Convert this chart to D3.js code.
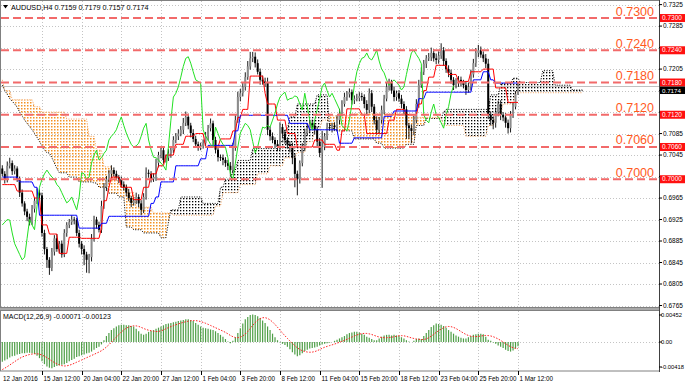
<!DOCTYPE html>
<html>
<head>
<meta charset="utf-8">
<script src="https://cdn.jsdelivr.net/npm/d3@7"></script>
<style>
  body { margin: 0; background: #fff; }
  svg { display: block; }
  text { font-family: "Liberation Sans", Arial, sans-serif; }
</style>
</head>
<body>
<svg id="chart" width="685" height="386"></svg>
<script>
// ---- data ----
// closes, one per H4 bar (bar 0 = first visible bar, bar 208 = 1 Mar 12:00)
const closes = [
  0.7010,0.7000,0.7025,0.7030,0.7015,0.7020,0.7000,0.6975,0.6955,0.6940,
  0.6930,0.6920,0.6945,0.6960,0.6975,0.6970,0.6900,0.6870,0.6850,0.6835,
  0.6865,0.6890,0.6870,0.6880,0.6860,0.6900,0.6915,0.6920,0.6925,0.6924,
  0.6900,0.6880,0.6870,0.6860,0.6850,0.6855,0.6890,0.6925,0.6915,0.6906,
  0.6950,0.6985,0.7000,0.7010,0.7017,0.7010,0.7004,0.7000,0.6990,0.6985,
  0.6975,0.6965,0.6956,0.6960,0.6967,0.6955,0.6943,0.6967,0.7012,0.7010,
  0.7000,0.7004,0.7030,0.7045,0.7054,0.7036,0.7040,0.7048,0.7054,0.7073,
  0.7080,0.7085,0.7092,0.7105,0.7116,0.7100,0.7086,0.7075,0.7065,0.7060,
  0.7062,0.7067,0.7080,0.7095,0.7104,0.7073,0.7055,0.7041,0.7040,0.7036,
  0.7030,0.7025,0.7017,0.7060,0.7110,0.7153,0.7160,0.7172,0.7190,0.7210,
  0.7225,0.7228,0.7216,0.7200,0.7185,0.7182,0.7179,0.7092,0.7080,0.7073,
  0.7065,0.7060,0.7097,0.7085,0.7073,0.7065,0.7060,0.7040,0.7010,0.7000,
  0.7030,0.7060,0.7086,0.7095,0.7104,0.7100,0.7092,0.7070,0.7049,0.7060,
  0.7080,0.7097,0.7095,0.7100,0.7097,0.7110,0.7123,0.7140,0.7153,0.7158,
  0.7162,0.7147,0.7150,0.7151,0.7155,0.7153,0.7140,0.7129,0.7160,0.7135,
  0.7110,0.7092,0.7110,0.7129,0.7150,0.7172,0.7179,0.7165,0.7153,0.7160,
  0.7150,0.7140,0.7130,0.7100,0.7095,0.7090,0.7110,0.7140,0.7175,0.7200,
  0.7215,0.7225,0.7227,0.7235,0.7225,0.7222,0.7230,0.7240,0.7220,0.7205,
  0.7198,0.7185,0.7175,0.7180,0.7185,0.7180,0.7175,0.7166,0.7172,0.7195,
  0.7216,0.7235,0.7240,0.7232,0.7225,0.7215,0.7120,0.7110,0.7105,0.7125,
  0.7140,0.7120,0.7115,0.7105,0.7095,0.7120,0.7135,0.7159,0.7174
];
const firstOpen = 0.7020;
// wick lengths beyond the body, in pips
const upWick = [
  6,5,8,10,5,6,4,5,6,4, 5,6,7,5,8,6,5,6,4,5, 7,6,8,5,6,7,5,6,8,5,
  4,6,5,7,5,6,8,7,5,6, 10,8,6,7,9,5,6,4,5,6, 5,7,4,6,8,5,6,7,10,6,
  5,7,8,6,5,7,6,8,5,7, 6,8,7,9,10,6,5,7,6,5, 6,7,8,6,9,5,6,7,5,6,
  5,6,7,8,9,10,8,7,9,10, 12,9,8,7,6,8,7,10,6,7, 5,8,9,6,7,5,6,8,7,6,
  5,7,8,9,6,7,5,6,7,30, 6,8,7,5,6,9,8,7,8,6, 7,5,6,8,7,6,5,7,9,6,
  5,7,6,8,7,9,8,6,7,5, 6,7,5,6,5,7,8,9,10,8, 7,6,8,10,7,9,8,13,6,5,
  7,6,5,8,7,6,5,7,8,9, 8,9,10,7,6,8,9,6,7,8, 6,7,5,8,6,7,8,5,5
];
const downWick = [
  5,8,6,5,7,6,5,8,6,7, 8,6,5,7,6,8,7,10,15,13, 6,7,5,8,6,5,7,6,5,8,
  6,7,10,20,24,25,8,6,7,5, 6,5,7,6,8,5,6,7,5,6, 7,6,8,5,6,7,10,6,5,7,
  6,5,7,8,6,7,5,6,8,5, 6,7,5,8,6,7,8,6,5,7, 6,5,7,8,6,9,7,8,6,10,
  7,8,12,6,7,5,8,6,7,5, 6,7,8,5,9,6,7,10,8,6, 7,8,6,9,7,8,10,12,25,30,
  8,6,7,5,8,6,9,10,8,65, 6,7,5,8,6,7,8,6,5,7, 6,8,7,5,6,7,8,9,6,10,
  8,9,7,6,8,5,7,6,8,7, 6,8,9,25,20,23,8,6,7,5, 6,8,5,7,6,8,7,6,9,7,
  8,7,9,6,8,7,6,9,5,7, 6,7,8,6,7,8,8,10,12,9, 8,10,7,9,10,8,6,5,2
];

// Ichimoku lines as [value, fromBar, toBar]
const tenkanSegs = [
  [0.6990,0,5],[0.6978,6,12],[0.6965,13,15],[0.6915,16,18],[0.6898,19,22],
  [0.6862,23,26],[0.6892,27,31],[0.6890,32,39],[0.6910,40,40],[0.6960,41,42],
  [0.6985,43,43],[0.7004,44,47],[0.6985,48,52],[0.6962,53,56],[0.6985,57,59],
  [0.7010,60,62],[0.7025,63,65],[0.7045,66,69],[0.7065,70,73],[0.7080,74,77],
  [0.7085,78,81],[0.7060,82,87],[0.7075,88,92],[0.7090,93,94],[0.7115,95,96],
  [0.7130,97,99],[0.7192,100,105],[0.7160,106,106],[0.7140,107,110],[0.7110,111,114],
  [0.7085,115,118],[0.7060,119,125],[0.7073,126,129],[0.7065,130,134],[0.7054,135,136],
  [0.7090,137,138],[0.7131,139,144],[0.7120,145,146],[0.7085,147,155],[0.7110,156,158],
  [0.7130,159,162],[0.7120,163,167],[0.7140,168,169],[0.7165,170,171],[0.7190,172,174],
  [0.7212,175,179],[0.7195,180,183],[0.7182,184,188],[0.7200,189,193],[0.7205,194,198],
  [0.7170,199,203],[0.7143,204,208]
];
const kijunSegs = [
  [0.7004,0,6],[0.6995,7,12],[0.6985,13,14],[0.6933,15,30],[0.6909,31,39],
  [0.6918,40,42],[0.6931,43,59],[0.6955,60,61],[0.6967,62,63],[0.6995,64,69],
  [0.7025,70,79],[0.7038,80,82],[0.7063,83,93],[0.7090,94,95],[0.7119,96,115],
  [0.7104,116,123],[0.7092,124,135],[0.7067,136,141],[0.7077,142,153],[0.7117,154,157],
  [0.7127,158,167],[0.7150,168,170],[0.7162,171,189],[0.7185,190,193],[0.7200,194,196],
  [0.7185,197,198],[0.7179,199,208]
];
// Senkou span A (black dotted) and B (orange dotted), 26 bars past the last candle
const spanASegs = [
  [0.7175,0,0],[0.7165,1,1],[0.7158,2,2],[0.7150,3,3],[0.7145,4,4],[0.7140,5,5],
  [0.7134,6,6],[0.7125,7,7],[0.7118,8,8],[0.7110,9,9],[0.7104,10,10],[0.7098,11,11],
  [0.7092,12,12],[0.7085,13,13],[0.7078,14,14],[0.7070,15,15],[0.7062,16,16],[0.7055,17,17],
  [0.7049,18,19],[0.7040,20,20],[0.7030,21,21],[0.7020,22,22],[0.7012,23,26],[0.7004,27,30],
  [0.6995,31,36],[0.6993,37,38],[0.6985,39,42],[0.6974,43,46],[0.6967,47,49],[0.6911,50,52],
  [0.6906,53,56],[0.6900,57,63],[0.6891,64,66],[0.6920,67,67],[0.6943,68,71],[0.6967,72,80],
  [0.6955,81,87],[0.6985,88,89],[0.7000,90,92],[0.7017,93,94],[0.7035,95,100],[0.7057,101,111],
  [0.7070,112,113],[0.7092,114,115],[0.7116,116,118],[0.7140,119,126],[0.7157,127,131],
  [0.7100,132,133],[0.7090,134,141],[0.7075,142,150],[0.7067,151,153],[0.7058,154,162],
  [0.7065,163,166],[0.7100,167,170],[0.7113,171,177],[0.7125,178,178],[0.7130,179,196],
  [0.7157,197,200],[0.7178,201,205],[0.7188,206,208],[0.7180,209,217],[0.7202,218,222],
  [0.7175,223,229],[0.7166,230,234]
];
const spanBSegs = [
  [0.7185,0,0],[0.7165,1,3],[0.7148,4,12],[0.7135,13,15],[0.7125,16,25],[0.7112,26,34],
  [0.7080,35,37],[0.7054,38,40],[0.7023,41,44],[0.7004,45,46],[0.6990,47,50],[0.6975,51,53],
  [0.6948,54,60],[0.6937,61,68],[0.6933,69,85],[0.6950,86,88],[0.6975,89,95],[0.6990,96,102],
  [0.7010,103,107],[0.7025,108,113],[0.7040,114,118],[0.7050,119,122],[0.7070,123,125],
  [0.7092,126,128],[0.7110,129,131],[0.7118,132,140],[0.7122,141,165],[0.7115,166,177],
  [0.7100,178,186],[0.7080,187,195],[0.7100,196,198],[0.7120,199,201],[0.7140,202,206],
  [0.7161,207,234]
];

// MACD main (histogram), in units of 0.0001
const macdMain = [
  -33,-31,-29,-26,-24,-23,-21,-20,-19,-19, -18,-18,-19,-20,-23,-27,-32,-37,-41,-43,
  -44,-42,-40,-39,-38,-37,-35,-32,-30,-28, -25,-24,-22,-21,-19,-18,-16,-13,-10,-8,
  -4,3,10,15,20,23,26,28,29,29, 28,28,27,26,22,18,14,12,14,17,
  19,20,22,24,26,28,30,31,32,33, 34,35,36,37,38,38,37,35,32,29,
  26,24,23,22,21,20,18,15,12,9, 5,1,-2,2,8,15,23,31,38,42,
  45,46,45,43,40,36,32,26,20,14, 8,3,-1,-3,-5,-8,-12,-17,-21,-24,
  -22,-19,-15,-13,-11,-10,-9,-8,-6,-4, -3,-2,-1,0,2,4,6,8,10,13,
  15,16,17,17,16,14,12,9,7,5, 3,3,6,9,11,12,12,11,12,11,
  10,8,6,3,1,0,2,5,6,5, 10,15,20,25,28,31,30,29,27,24,
  20,17,14,11,9,7,6,6,8,10, 12,13,14,14,13,9,4,2,-1,-3,
  -6,-8,-10,-13,-15,-16,-14,-11,-7
];
// MACD values of the 8 bars before the first visible one (for the signal SMA)
const macdBefore = [-52,-52,-51,-50,-48,-46,-43,-40];

const levels = [0.7300, 0.7240, 0.7180, 0.7120, 0.7060, 0.7000];
const priceTicks = [0.7325,0.7285,0.7245,0.7205,0.7165,0.7125,0.7085,0.7045,0.7005,
                    0.6965,0.6925,0.6885,0.6845,0.6805,0.6765];
const lastPrice = 0.7174;
const macdTicks = [[45.2, "0.00452"], [0, "0.00"], [-41.8, "-0.00418"]];
const timeTickBars = [16,32,48,64,80,96,112,128,144,160,176,192,208];
const timeTickLabels = ["15 Jan 12:00","20 Jan 04:00","22 Jan 20:00","27 Jan 12:00",
  "1 Feb 04:00","3 Feb 20:00","8 Feb 12:00","11 Feb 04:00","15 Feb 20:00",
  "18 Feb 12:00","23 Feb 04:00","25 Feb 20:00","1 Mar 12:00"];

// ---- layout ----
const plotR = 659;
const mainBot = 307;
const macdTop = 311, macdBot = 371;

function expand(segs) {
    let out = [];
    segs.forEach(([v, a, b]) => { for (let i = a; i <= b; i++) out[i] = v; });
    return out;
}
const tenkan = expand(tenkanSegs);
const kijun = expand(kijunSegs);
const spanA = expand(spanASegs);
const spanB = expand(spanBSegs);

const bars = closes.map((c, i) => {
    const o = i === 0 ? firstOpen : closes[i - 1];
    return { i, o, c,
        hi: Math.max(o, c) + upWick[i] / 1e4,
        lo: Math.min(o, c) - downWick[i] / 1e4 };
});

// signal = SMA(9) of MACD main
const macdAll = macdBefore.concat(macdMain);
const signal = macdMain.map((v, i) => d3.mean(macdAll.slice(i, i + 9)));

const svg = d3.select("#chart");
const x = d3.scaleLinear().domain([0, 208]).range([2.3, 518]);
const y = d3.scaleLinear().domain([0.6765, 0.7325]).range([305.5, 4.6]);
const ym = d3.scaleLinear().domain([-41.8, 45.2]).range([367, 315]);

const defs = svg.append("defs");
defs.append("clipPath").attr("id", "clipMain")
    .append("rect").attr("x", 1).attr("y", 1).attr("width", plotR - 1).attr("height", mainBot - 1);
defs.append("clipPath").attr("id", "clipMacd")
    .append("rect").attr("x", 1).attr("y", macdTop).attr("width", plotR - 1).attr("height", macdBot - macdTop);

function dotPattern(id, color, step, dot) {
    const p = defs.append("pattern").attr("id", id)
        .attr("patternUnits", "userSpaceOnUse").attr("width", step).attr("height", step);
    p.append("rect").attr("width", dot).attr("height", dot).attr("fill", color);
}
dotPattern("dotOrange", "#f39224", 3, 1.5);
dotPattern("dotBlack", "#000", 3, 1.3);

// ---- grid ----
const grid = svg.append("g").attr("stroke", "#c4c4c4").attr("stroke-dasharray", "1,2").attr("stroke-width", 1);
timeTickBars.forEach(b => {
    const xx = Math.round(x(b)) + 0.5;
    grid.append("line").attr("x1", xx).attr("x2", xx).attr("y1", 1).attr("y2", mainBot);
    grid.append("line").attr("x1", xx).attr("x2", xx).attr("y1", macdTop).attr("y2", macdBot);
});
priceTicks.forEach(p => {
    const yy = Math.round(y(p)) + 0.5;
    grid.append("line").attr("x1", 1).attr("x2", plotR).attr("y1", yy).attr("y2", yy);
});
grid.append("line").attr("x1", 1).attr("x2", plotR)
    .attr("y1", Math.round(ym(0)) + 0.5).attr("y2", Math.round(ym(0)) + 0.5);

// ---- main panel ----
const main = svg.append("g").attr("clip-path", "url(#clipMain)");

const cloud = d3.range(0, 235).map(i => ({ i, a: spanA[i], b: spanB[i] }));
main.append("path").datum(cloud)
    .attr("fill", "url(#dotOrange)")
    .attr("d", d3.area().x(d => x(d.i)).y0(d => y(d.b)).y1(d => y(Math.min(d.a, d.b))));
main.append("path").datum(cloud)
    .attr("fill", "url(#dotBlack)")
    .attr("d", d3.area().x(d => x(d.i)).y0(d => y(d.a)).y1(d => y(Math.min(d.a, d.b))));
main.append("path").datum(cloud)
    .attr("fill", "none").attr("stroke", "#f4a460").attr("stroke-width", 1).attr("stroke-dasharray", "1,1.5")
    .attr("d", d3.line().x(d => x(d.i)).y(d => y(d.b)));
main.append("path").datum(cloud)
    .attr("fill", "none").attr("stroke", "#000").attr("stroke-width", 1).attr("stroke-dasharray", "1,1.5")
    .attr("d", d3.line().x(d => x(d.i)).y(d => y(d.a)));

// bid line
main.append("line").attr("x1", 1).attr("x2", plotR)
    .attr("y1", Math.round(y(lastPrice)) + 0.5).attr("y2", Math.round(y(lastPrice)) + 0.5)
    .attr("stroke", "#c0c0c0");

// candles
const candles = main.append("g");
candles.selectAll("line").data(bars).join("line")
    .attr("x1", d => x(d.i)).attr("x2", d => x(d.i))
    .attr("y1", d => y(d.hi)).attr("y2", d => y(d.lo))
    .attr("stroke", "#000").attr("stroke-width", 0.9);
candles.selectAll("rect").data(bars).join("rect")
    .attr("x", d => x(d.i) - 1)
    .attr("width", 2)
    .attr("y", d => y(Math.max(d.o, d.c)))
    .attr("height", d => Math.max(0.8, Math.abs(y(d.o) - y(d.c))))
    .attr("fill", d => d.c >= d.o ? "#8c8c8c" : "#000");

// ichimoku lines
const line = d3.line().x(d => x(d[0])).y(d => y(d[1]));
main.append("path").datum(tenkan.map((v, i) => [i, v]))
    .attr("fill", "none").attr("stroke", "#ff0000").attr("stroke-width", 1).attr("d", line);
main.append("path").datum(kijun.map((v, i) => [i, v]))
    .attr("fill", "none").attr("stroke", "#0000ff").attr("stroke-width", 1).attr("d", line);
main.append("path").datum(closes.slice(26).map((v, i) => [i, v]))
    .attr("fill", "none").attr("stroke", "#22e022").attr("stroke-width", 1).attr("d", line);

// support / resistance levels
levels.forEach(p => {
    const yy = y(p);
    main.append("line").attr("x1", 1).attr("x2", plotR).attr("y1", yy).attr("y2", yy)
        .attr("stroke", "#f26a6a").attr("stroke-width", 2).attr("stroke-dasharray", "8,4");
    svg.append("text").attr("x", 654).attr("y", yy - 2.5)
        .attr("text-anchor", "end").attr("font-size", 12.5).attr("fill", "#ff5a1e")
        .text(p.toFixed(4));
});

// ---- MACD panel ----
const macd = svg.append("g").attr("clip-path", "url(#clipMacd)");
macd.selectAll("line").data(macdMain).join("line")
    .attr("x1", (d, i) => x(i)).attr("x2", (d, i) => x(i))
    .attr("y1", ym(0)).attr("y2", d => ym(d))
    .attr("stroke", "#4e9e46").attr("stroke-width", 1.2);
macd.append("path").datum(signal.map((v, i) => [i, v]))
    .attr("fill", "none").attr("stroke", "#ff2020").attr("stroke-width", 1).attr("stroke-dasharray", "1.5,1.5")
    .attr("d", d3.line().x(d => x(d[0])).y(d => ym(d[1])));

// ---- frames ----
const frame = svg.append("g").attr("fill", "none").attr("stroke", "#808080");
frame.append("rect").attr("x", 0.5).attr("y", 0.5).attr("width", plotR).attr("height", mainBot);
frame.append("rect").attr("x", 0.5).attr("y", macdTop - 0.5).attr("width", plotR).attr("height", macdBot - macdTop + 0.5);
svg.append("rect").attr("x", 0).attr("y", mainBot + 1).attr("width", plotR + 1).attr("height", 2).attr("fill", "#a8a8a8");
svg.append("line").attr("x1", plotR + 0.5).attr("x2", plotR + 0.5).attr("y1", 0).attr("y2", macdBot + 1)
    .attr("stroke", "#404040");

// ---- right price axis ----
const axis = svg.append("g").attr("font-size", 6.5).attr("fill", "#000");
const tagYs = levels.map(p => y(p)).concat([y(lastPrice)]);
priceTicks.forEach(p => {
    const yy = y(p);
    axis.append("line").attr("x1", plotR).attr("x2", plotR + 3).attr("y1", yy).attr("y2", yy).attr("stroke", "#000");
    // labels covered by a price tag are not shown
    if (tagYs.some(t => Math.abs(t - yy) < 8)) return;
    axis.append("text").attr("x", plotR + 4).attr("y", yy + 2.3).text(p.toFixed(4));
});
levels.forEach(p => {
    const yy = y(p);
    axis.append("rect").attr("x", plotR + 1).attr("y", yy - 4).attr("width", 25).attr("height", 8).attr("fill", "#ff1010");
    axis.append("text").attr("x", plotR + 3).attr("y", yy + 2.2).attr("fill", "#fff").text(p.toFixed(4));
});
// current price tag, sits just under the 0.7180 tag
const lastY = y(0.7180) + 4;
axis.append("rect").attr("x", plotR + 1).attr("y", lastY).attr("width", 25).attr("height", 7.5).attr("fill", "#000");
axis.append("text").attr("x", plotR + 3).attr("y", lastY + 6).attr("fill", "#fff").attr("font-size", 6.2)
    .text(lastPrice.toFixed(4));

macdTicks.forEach(([v, t]) => {
    axis.append("line").attr("x1", plotR).attr("x2", plotR + 3).attr("y1", ym(v)).attr("y2", ym(v)).attr("stroke", "#000");
    axis.append("text").attr("x", plotR + 2).attr("y", ym(v) + 2.2).attr("font-size", 5.8).text(t);
});

// ---- time axis ----
const taxis = svg.append("g").attr("font-size", 6.3).attr("fill", "#000");
taxis.append("text").attr("x", 3).attr("y", 381).text("12 Jan 2016");
timeTickBars.forEach((b, k) => {
    const xx = Math.round(x(b)) + 0.5;
    taxis.append("line").attr("x1", xx).attr("x2", xx).attr("y1", macdBot).attr("y2", macdBot + 4).attr("stroke", "#000");
    taxis.append("text").attr("x", xx + 1).attr("y", 381).text(timeTickLabels[k]);
});

// ---- titles ----
svg.append("path").attr("d", "M3,5 L8,5 L5.5,8.5 Z").attr("fill", "#000");
svg.append("text").attr("x", 11).attr("y", 10).attr("font-size", 7.2).attr("fill", "#000")
    .text("AUDUSD,H4 0.7159 0.7179 0.7157 0.7174");
svg.append("text").attr("x", 3).attr("y", 319).attr("font-size", 7).attr("fill", "#000")
    .text("MACD(12,26,9) -0.00071 -0.00123");
</script>
</body>
</html>
